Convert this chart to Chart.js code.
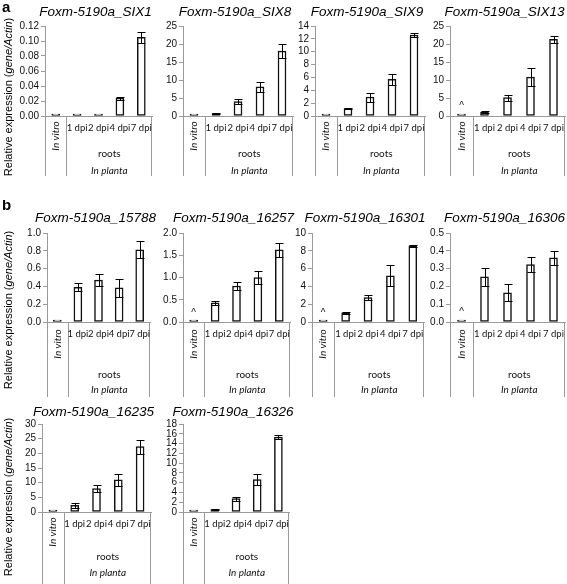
<!DOCTYPE html>
<html>
<head>
<meta charset="utf-8">
<script src="https://cdn.jsdelivr.net/npm/chart.js@4"></script>
<style>
  body { margin: 0; background: #fff; }
  #wrap { position: relative; width: 567px; height: 584px; overflow: hidden; }
  #wrap canvas { position: absolute; }
</style>
</head>
<body>
<div id="wrap"></div>
<script>
// categories along the x-axis
var cats = ["In vitro", "1 dpi", "2 dpi", "4 dpi", "7 dpi"];
var groupLabels = ["roots", "In planta"];

// panel titles
var titles = ["Foxm-5190a_SIX1", "Foxm-5190a_SIX8", "Foxm-5190a_SIX9", "Foxm-5190a_SIX13",
              "Foxm-5190a_15788", "Foxm-5190a_16257", "Foxm-5190a_16301", "Foxm-5190a_16306",
              "Foxm-5190a_16235", "Foxm-5190a_16326"];

// mean relative expression
var six1  = [0.0005, 0.0005, 0.0006, 0.024, 0.105];
var six8  = [0.05, 0.7, 4.0, 8.1, 18.0];
var six9  = [0.03, 1.15, 2.95, 5.7, 12.6];
var six13 = [0.1, 1.1, 5.1, 10.8, 21.3];
var g15788 = [0.005, 0.39, 0.47, 0.385, 0.81];
var g16257 = [0.005, 0.43, 0.81, 1.0, 1.62];
var g16301 = [0.02, 1.02, 2.75, 5.2, 8.57];
var g16306 = [0.007, 0.254, 0.164, 0.323, 0.36];
var g16235 = [0.05, 2.3, 8.0, 11.0, 22.3];
var g16326 = [0.05, 0.5, 2.75, 6.65, 15.3];

// error bars (+/-)
var six1Err  = [0, 0, 0, 0.002, 0.007];
var six8Err  = [0, 0.15, 0.7, 1.4, 2.0];
var six9Err  = [0, 0.1, 0.7, 0.9, 0.3];
var six13Err = [0, 0.3, 0.8, 2.4, 1.0];
var g15788Err = [0, 0.045, 0.07, 0.1, 0.095];
var g16257Err = [0, 0.05, 0.08, 0.14, 0.15];
var g16301Err = [0, 0.15, 0.25, 1.15, 0.12];
var g16306Err = [0, 0.05, 0.048, 0.043, 0.037];
var g16235Err = [0, 0.9, 1.2, 2.0, 2.4];
var g16326Err = [0, 0.1, 0.4, 1.2, 0.45];

var series = [six1, six8, six9, six13, g15788, g16257, g16301, g16306, g16235, g16326];
var errors = [six1Err, six8Err, six9Err, six13Err, g15788Err, g16257Err, g16301Err, g16306Err, g16235Err, g16326Err];

// y-axis ticks
var yMax  = [0.12, 25, 14, 25, 1.0, 2.0, 10, 0.5, 30, 18];
var yStep = [0.02, 5, 2, 5, 0.2, 0.5, 2, 0.1, 5, 2];
var yDec  = [2, 0, 0, 0, 1, 1, 0, 1, 0, 0];

// panels marked with ^ over In vitro
var caretOn = [false, false, false, true, false, true, true, true, false, false];

// layout (pixels)
var rows = [
  { top: 0,   h: 180, plotTop: 26,  plotBottom: 116, titleY: 12,  labelY: 97,  letter: "a", letterY: 8,
    dpiY: 12, vitroY: 20, rootsY: 38, plantaY: 55, lineH: 60 },
  { top: 200, h: 200, plotTop: 233, plotBottom: 322, titleY: 218, labelY: 310, letter: "b", letterY: 206,
    dpiY: 12, vitroY: 22, rootsY: 53, plantaY: 68, lineH: 75 },
  { top: 400, h: 184, plotTop: 424, plotBottom: 512, titleY: 412, labelY: 497, letter: "", letterY: 0,
    dpiY: 12, vitroY: 20, rootsY: 45, plantaY: 61, lineH: 72 }
];
var panelRow = [0, 0, 0, 0, 1, 1, 1, 1, 2, 2];
var panelX = [[45, 152], [183, 293], [315, 425], [450, 565], [47, 150],
              [183, 290], [312, 424], [450, 565], [42, 151], [183, 289]];

var SANS = '"Liberation Sans", Arial, sans-serif';
var wrap = document.getElementById("wrap");

function line(ctx, x1, y1, x2, y2) {
  ctx.beginPath(); ctx.moveTo(x1, y1); ctx.lineTo(x2, y2); ctx.stroke();
}

function makePlugin(i, row, first) {
  return {
    id: "panel" + i,
    afterDatasetsDraw: function (chart) {
      var ctx = chart.ctx, area = chart.chartArea, ys = chart.scales.y;
      var bars = chart.getDatasetMeta(0).data;
      var vals = series[i], errs = errors[i];
      ctx.save();

      // error bars
      ctx.strokeStyle = "#000"; ctx.lineWidth = 1;
      for (var k = 0; k < bars.length; k++) {
        if (!errs[k]) continue;
        var x = Math.round(bars[k].x) + 0.5;
        var y1 = Math.round(ys.getPixelForValue(vals[k] + errs[k])) + 0.5;
        var y2 = Math.round(ys.getPixelForValue(Math.max(vals[k] - errs[k], 0))) + 0.5;
        line(ctx, x, y1, x, y2);
        line(ctx, x - 4, y1, x + 4, y1);
        line(ctx, x - 4, y2, x + 4, y2);
      }

      ctx.fillStyle = "#111";
      if (caretOn[i]) {
        ctx.font = "10px " + SANS; ctx.textAlign = "center"; ctx.textBaseline = "middle";
        ctx.fillText("^", bars[0].x, ys.getPixelForValue(vals[0]) - 9);
      }

      // category table below the axis
      var bottom = area.bottom;
      var sep = Math.round((bars[0].x + bars[1].x) / 2) + 0.5;
      ctx.strokeStyle = "#9a9a9a";
      [Math.round(area.left) + 0.5, sep, Math.round(area.right) - 0.5].forEach(function (x) {
        line(ctx, x, bottom, x, bottom + row.lineH);
      });
      ctx.font = "9.5px Lato, sans-serif"; ctx.textAlign = "center"; ctx.textBaseline = "middle";
      for (var k = 1; k < cats.length; k++) ctx.fillText(cats[k], bars[k].x, bottom + row.dpiY);
      var mid = (sep + area.right) / 2;
      ctx.font = "10px Lato, sans-serif";
      ctx.fillText(groupLabels[0], mid, bottom + row.rootsY);
      ctx.font = "italic 10px Lato, sans-serif";
      ctx.fillText(groupLabels[1], mid, bottom + row.plantaY);
      ctx.save();
      ctx.translate(bars[0].x, bottom + row.vitroY);
      ctx.rotate(-Math.PI / 2);
      ctx.fillText(cats[0], 0, 0);
      ctx.restore();

      // title
      ctx.fillStyle = "#000";
      ctx.font = "italic 13.5px " + SANS;
      ctx.fillText(titles[i], (area.left + area.right) / 2 - 3, row.titleY - row.top);

      // row label and panel letter
      if (first) {
        var parts = [["Relative expression (", "11px " + SANS], ["gene/Actin", "italic 11px " + SANS], [")", "11px " + SANS]];
        var total = 0;
        parts.forEach(function (p) { ctx.font = p[1]; total += ctx.measureText(p[0]).width; });
        ctx.save();
        ctx.translate(9, row.labelY - row.top);
        ctx.rotate(-Math.PI / 2);
        ctx.textAlign = "left";
        var x0 = -total / 2;
        parts.forEach(function (p) { ctx.font = p[1]; ctx.fillText(p[0], x0, 0); x0 += ctx.measureText(p[0]).width; });
        ctx.restore();
        if (row.letter) {
          ctx.font = "bold 15px " + SANS; ctx.textAlign = "left";
          ctx.fillText(row.letter, 2, row.letterY - row.top);
        }
      }
      ctx.restore();
    }
  };
}

titles.forEach(function (t, i) {
  var row = rows[panelRow[i]];
  var first = i === 0 || panelRow[i] !== panelRow[i - 1];
  var L = panelX[i][0], R = panelX[i][1];
  var axisW = first ? L : 30;
  var left = L - axisW, width = R + 10 - left;
  var c = document.createElement("canvas");
  c.width = width; c.height = row.h;
  c.style.left = left + "px"; c.style.top = row.top + "px";
  c.style.width = width + "px"; c.style.height = row.h + "px";
  wrap.appendChild(c);

  new Chart(c, {
    type: "bar",
    data: {
      labels: cats,
      datasets: [{
        data: series[i],
        backgroundColor: "#fff",
        borderColor: "#111",
        borderWidth: 1.5,
        borderSkipped: false,
        barThickness: 8,
        minBarLength: 2
      }]
    },
    options: {
      responsive: false,
      animation: false,
      layout: { padding: { top: row.plotTop - row.top, right: 10, left: 0, bottom: 0 } },
      plugins: { legend: { display: false }, tooltip: { enabled: false }, title: { display: false } },
      scales: {
        x: {
          grid: { display: false },
          ticks: { display: false },
          border: { color: "#9a9a9a" },
          afterFit: function (s) { s.height = row.h - (row.plotBottom - row.top); }
        },
        y: {
          min: 0, max: yMax[i],
          ticks: {
            stepSize: yStep[i], autoSkip: false, color: "#111", padding: 2,
            font: { family: SANS, size: 10 },
            callback: function (v) { return v.toFixed(yDec[i]); }
          },
          grid: { drawOnChartArea: false, tickLength: 4, color: "#9a9a9a" },
          border: { color: "#9a9a9a" },
          afterFit: function (s) { s.width = axisW; }
        }
      }
    },
    plugins: [makePlugin(i, row, first)]
  });
});
</script>
</body>
</html>
